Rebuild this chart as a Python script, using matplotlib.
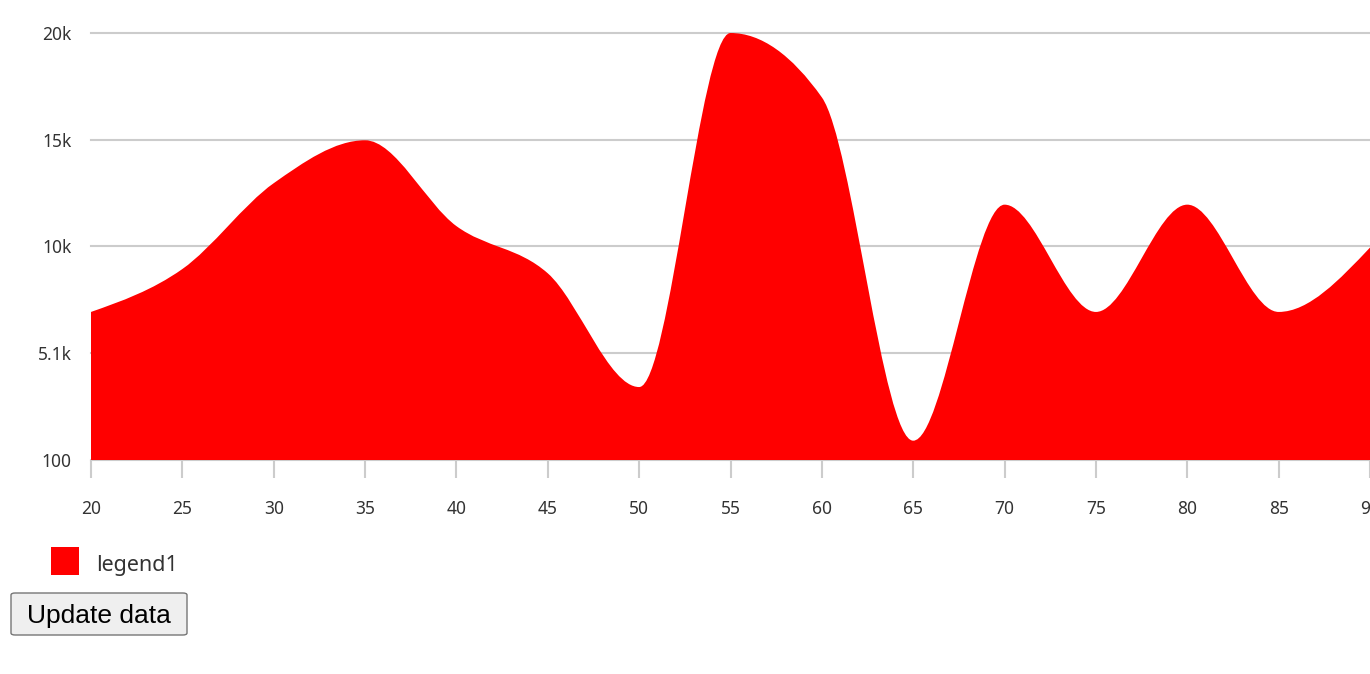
import matplotlib
matplotlib.use("Agg")
import matplotlib.pyplot as plt
import numpy as np
from matplotlib.path import Path
from matplotlib.patches import PathPatch, Rectangle, FancyBboxPatch

# data
x_vals = [20, 25, 30, 35, 40, 45, 50, 55, 60, 65, 70, 75, 80, 85, 90]
y_vals = [7000, 9000, 13000, 15000, 11000, 8800, 3500, 20000, 17000, 1000,
          12000, 7000, 12000, 7000, 10000]
y_ticks = [100, 5075, 10050, 15025, 20000]
y_tick_labels = ["100", "5.1k", "10k", "15k", "20k"]
x_ticks = [20, 25, 30, 35, 40, 45, 50, 55, 60, 65, 70, 75, 80, 85, 90]
legend_label = "legend1"


def monotone_tangents(x, y):
    # same rule as d3 curveMonotoneX
    x = np.asarray(x, float)
    y = np.asarray(y, float)
    n = len(x)
    t = np.zeros(n)
    h = np.diff(x)
    s = np.diff(y) / h
    for i in range(1, n - 1):
        p = (s[i - 1] * h[i] + s[i] * h[i - 1]) / (h[i - 1] + h[i])
        t[i] = (np.sign(s[i - 1]) + np.sign(s[i])) * min(abs(s[i - 1]), abs(s[i]), 0.5 * abs(p))
    t[0] = (3 * s[0] - t[1]) / 2
    t[-1] = (3 * s[-1] - t[-2]) / 2
    return t


def area_path(x, y, base):
    t = monotone_tangents(x, y)
    verts = [(x[0], base), (x[0], y[0])]
    codes = [Path.MOVETO, Path.LINETO]
    for i in range(len(x) - 1):
        dx = (x[i + 1] - x[i]) / 3
        verts += [(x[i] + dx, y[i] + dx * t[i]),
                  (x[i + 1] - dx, y[i + 1] - dx * t[i + 1]),
                  (x[i + 1], y[i + 1])]
        codes += [Path.CURVE4] * 3
    verts += [(x[-1], base), (x[0], base)]
    codes += [Path.LINETO, Path.CLOSEPOLY]
    return Path(verts, codes)


plt.rcParams['font.family'] = ['Noto Sans', 'DejaVu Sans']

W, H = 1370, 674
fig = plt.figure(figsize=(W / 100, H / 100), dpi=100)
ax = fig.add_axes([91 / W, (H - 460) / H, 1 - 91 / W, (460 - 33) / H])

ax.add_patch(PathPatch(area_path(x_vals, y_vals, 100), facecolor="#ff0000",
                       edgecolor="none", zorder=2))

ax.set_xlim(20, 90)
ax.set_ylim(100, 20000)
ax.set_yticks(y_ticks)
ax.set_yticklabels(y_tick_labels)
ax.set_xticks(x_ticks)
ax.set_xticklabels([str(v) for v in x_ticks])

ax.grid(axis="y", color="#cccccc", linewidth=1.5, zorder=1)
for gl in ax.get_ygridlines():
    gl.set_clip_on(False)
ax.set_axisbelow(True)
for sp in ax.spines.values():
    sp.set_visible(False)

ax.tick_params(axis="y", length=0, pad=14, labelsize=12.5, labelcolor="#333333")
ax.tick_params(axis="x", length=13, width=1.5, color="#cccccc", pad=15.5,
               labelsize=12.5, labelcolor="#333333")
for tl in ax.get_xticklabels():
    tl.set_clip_on(False)

# legend drawn as a square + text below the axes
fig.patches.append(Rectangle((51 / W, (H - 575) / H), 28 / W, 28 / H,
                             transform=fig.transFigure, facecolor="#ff0000",
                             edgecolor="none"))
fig.text(96 / W, (H - 563) / H, legend_label, fontsize=15.5, color="#333333",
         va="center_baseline", ha="left")

# the "Update data" button
fig.patches.append(FancyBboxPatch((11 / W, (H - 635) / H), 176 / W, 42 / H,
                                  boxstyle="round,pad=0,rounding_size=0.003",
                                  transform=fig.transFigure, facecolor="#efefef",
                                  edgecolor="#767676", linewidth=1))
fig.text(99 / W, (H - 614) / H, "Update data", fontsize=19, color="black",
         va="center_baseline", ha="center", family="Liberation Sans")

fig.savefig("out.png", dpi=100)
